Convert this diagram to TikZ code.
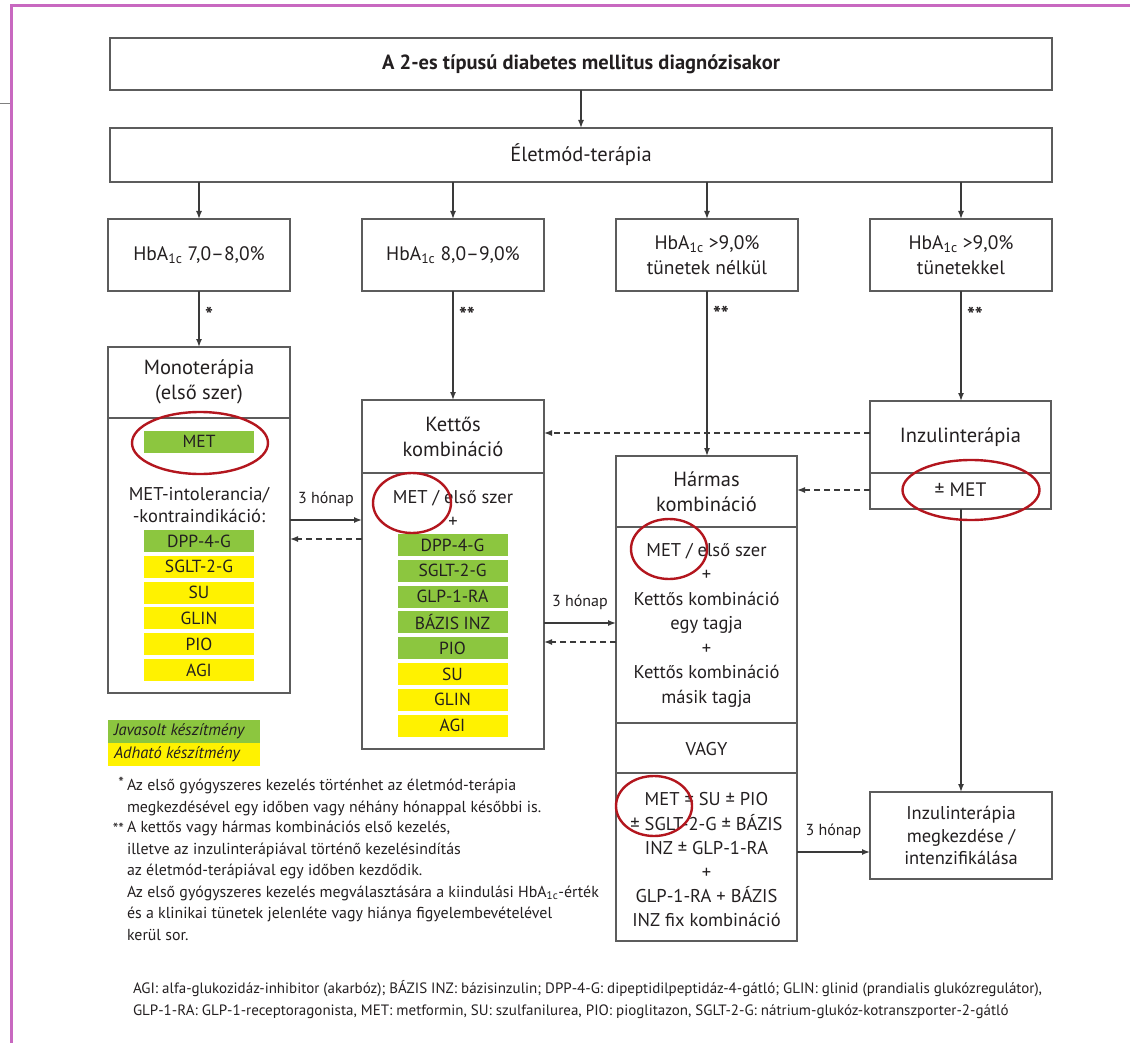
\documentclass[tikz,border=0pt]{standalone}
\usepackage{fontspec}
\setmainfont{PT Sans}
\usetikzlibrary{arrows.meta,shapes.geometric}
\definecolor{ink}{HTML}{231F20}
\definecolor{linec}{HTML}{3A3A3A}
\definecolor{boxc}{HTML}{5C5C5C}
\definecolor{jgreen}{HTML}{8CC63F}
\definecolor{jyellow}{HTML}{FFF200}
\definecolor{ringred}{HTML}{B3161E}
\definecolor{framec}{HTML}{C868C0}
\newcommand\hbaone{HbA\textsubscript{1c}}
\newcommand\lowstar[1]{\raisebox{-0.45ex}{#1}}
\begin{document}
\begin{tikzpicture}[x=1pt,y=-1pt,
  every node/.style={text=ink, inner sep=0pt, outer sep=0pt},
  box/.style={draw=boxc, line width=1.4pt, rectangle, fill=none},
  divider/.style={draw=boxc, line width=1.4pt},
  hdr/.style={font=\fontsize{20.5}{25}\selectfont, align=center},
  hba/.style={font=\fontsize{19.5}{25}\selectfont, align=center},
  txt/.style={font=\fontsize{18.5}{24.5}\selectfont, align=center},
  bar/.style={minimum width=110pt, minimum height=22pt, font=\fontsize{17.5}{18}\selectfont},
  gbar/.style={bar, fill=jgreen},
  ybar/.style={bar, fill=jyellow},
  arr/.style={draw=linec, line width=1.4pt, -{Latex[length=8pt,width=6pt]}},
  darr/.style={arr, dash pattern=on 6pt off 4pt},
  lbl/.style={font=\fontsize{16}{18}\selectfont},
  star/.style={font=\bfseries\fontsize{21}{22}\selectfont},
  ring/.style={draw=ringred, line width=2.4pt, ellipse, fill=none},
  fnote/.style={font=\fontsize{15.9}{21.5}\selectfont, align=left, anchor=base west},
]
\useasboundingbox (0,0) rectangle (1130,1043);
% page frame
\draw[framec, line width=3pt] (11.5,1043) -- (11.5,6) -- (1130,6);
\draw[gray, line width=1pt] (0,104) -- (10,104);

% title and lifestyle
\node[box, minimum width=942pt, minimum height=52pt, font=\bfseries\fontsize{20.5}{22}\selectfont] (title) at (581,64) {A 2-es típusú diabetes mellitus diagnózisakor};
\node[box, minimum width=942pt, minimum height=54pt, hdr] (elet) at (581,155) {Életmód-terápia};
\draw[arr] (title) -- (elet);

% HbA1c boxes
\node[box, minimum width=182pt, minimum height=72pt, hba] (h1) at (199,255) {\hbaone{} 7,0--8,0\%};
\node[box, minimum width=182pt, minimum height=72pt, hba] (h2) at (453,255) {\hbaone{} 8,0--9,0\%};
\node[box, minimum width=182pt, minimum height=72pt, hba] (h3) at (707,255) {\hbaone{} >9,0\%\\tünetek nélkül};
\node[box, minimum width=182pt, minimum height=72pt, hba] (h4) at (961,255) {\hbaone{} >9,0\%\\tünetekkel};
\foreach \h in {h1,h2,h3,h4} \draw[arr] (\h.north |- elet.south) -- (\h.north);

% Monoterapia
\node[box, minimum width=182pt, minimum height=346pt] (mono) at (199,520) {};
\draw[divider] (mono.west |- 0,418) -- (mono.east |- 0,418);
\node[hdr] (monoh) at (199,382) {Monoterápia\\(első szer)};
\node[gbar] (mmet) at (199,441.5) {MET};
\node[txt, font=\fontsize{18.5}{22.5}\selectfont] (mintol) at (199,505) {MET-intolerancia/\\-kontraindikáció:};
\node[gbar] (m1) at (199,541) {DPP-4-G};
\node[ybar] (m2) at (199,566.8) {SGLT-2-G};
\node[ybar] (m3) at (199,592.6) {SU};
\node[ybar] (m4) at (199,618.4) {GLIN};
\node[ybar] (m5) at (199,644.2) {PIO};
\node[ybar] (m6) at (199,670) {AGI};

% Kettos
\node[box, minimum width=182pt, minimum height=349pt] (kett) at (453,574.5) {};
\draw[divider] (kett.west |- 0,473) -- (kett.east |- 0,473);
\node[hdr] (ketth) at (453,436.5) {Kettős\\kombináció};
\node[txt] (kmet) at (453,509) {MET / első szer\\+};
\node[gbar] (k1) at (452.5,545) {DPP-4-G};
\node[gbar] (k2) at (452.5,570.8) {SGLT-2-G};
\node[gbar] (k3) at (452.5,596.6) {GLP-1-RA};
\node[gbar] (k4) at (452.5,622.4) {BÁZIS INZ};
\node[gbar] (k5) at (452.5,648.2) {PIO};
\node[ybar] (k6) at (452.5,674) {SU};
\node[ybar] (k7) at (452.5,699.8) {GLIN};
\node[ybar] (k8) at (452.5,725.6) {AGI};

% Harmas
\node[box, minimum width=181pt, minimum height=485pt] (harm) at (706.5,698.5) {};
\draw[divider] (harm.west |- 0,527) -- (harm.east |- 0,527);
\draw[divider] (harm.west |- 0,723) -- (harm.east |- 0,723);
\draw[divider] (harm.west |- 0,773) -- (harm.east |- 0,773);
\node[hdr] (harmh) at (706.5,491.5) {Hármas\\kombináció};
\node[txt] (harm1) at (706.5,625) {MET / első szer\\+\\Kettős kombináció\\egy tagja\\+\\Kettős kombináció\\másik tagja};
\node[txt] (vagy) at (706.5,749) {VAGY};
\node[txt, font=\fontsize{18.5}{24.2}\selectfont] (harm2) at (706.5,860) {MET ± SU ± PIO\\± SGLT-2-G ± BÁZIS\\INZ ± GLP-1-RA\\+\\GLP-1-RA + BÁZIS\\INZ fix kombináció};

% Inzulinterapia
\node[box, minimum width=181pt, minimum height=108pt] (inz) at (960.5,455) {};
\draw[divider] (inz.west |- 0,473) -- (inz.east |- 0,473);
\node[hdr] (inzh) at (960.5,437) {Inzulinterápia};
\node[hba] (inzm) at (960.5,490) {± MET};

\node[box, minimum width=182pt, minimum height=87pt, txt, font=\fontsize{18.5}{22.5}\selectfont] (inz2) at (961,835.5) {Inzulinterápia\\megkezdése /\\intenzifikálása};

% vertical arrows
\draw[arr] (h1) -- (mono) node[pos=0.42, right=6pt, star] (s1) {\lowstar{*}};
\draw[arr] (h2) -- (kett) node[pos=0.22, right=6pt, star] (s2) {\lowstar{**}};
\draw[arr] (h3) -- (harm.north -| h3) node[pos=0.14, right=6pt, star] (s3) {\lowstar{**}};
\draw[arr] (h4) -- (inz.north -| h4) node[pos=0.22, right=6pt, star] (s4) {\lowstar{**}};
\draw[arr] (inz.south -| inz2) -- (inz2);

% horizontal arrows
\draw[arr] (mono.east) -- (kett.west |- mono.east) node[midway, above=13pt, lbl] (t1) {3 hónap};
\draw[darr] (kett.west |- 0,539) -- (mono.east |- 0,539);
\draw[arr] (kett.east |- 0,623) -- (harm.west |- 0,623) node[midway, above=13pt, lbl] (t2) {3 hónap};
\draw[darr] (harm.west |- 0,642) -- (kett.east |- 0,642);
\draw[darr] (inz.west |- 0,433) -- (kett.east |- 0,433);
\draw[darr] (inz.west |- 0,490) -- (harm.east |- 0,490);
\draw[arr] (harm.east |- 0,852) -- (inz2.west |- 0,852) node[midway, above=13pt, lbl] (t3) {3 hónap};

% red rings
\node[ring, minimum width=136pt, minimum height=62pt] (r1) at (200,443) {};
\node[ring, minimum width=78pt, minimum height=60pt] (r2) at (412,503) {};
\node[ring, minimum width=76pt, minimum height=60pt] (r3) at (669,549) {};
\node[ring, minimum width=76pt, minimum height=60pt] (r4) at (654,806) {};
\node[ring, minimum width=137pt, minimum height=60pt] (r5) at (971,490) {};

% legend
\node[fill=jgreen, minimum width=152pt, minimum height=23pt, anchor=north west] (lg) at (108,720) {};
\node[fill=jyellow, minimum width=152pt, minimum height=23pt, anchor=north west] (ly) at (108,743) {};
\node[anchor=west, font=\itshape\fontsize{16.5}{18}\selectfont] (lgt) at (114,731.5) {Javasolt készítmény};
\node[anchor=west, font=\itshape\fontsize{16.5}{18}\selectfont] (lyt) at (114,754.5) {Adható készítmény};

% footnotes
\node[fnote, anchor=base east] (fs1) at (124,788) {*};
\node[fnote] (fn1) at (127,812) {Az első gyógyszeres kezelés történhet az életmód-terápia\\megkezdésével egy időben vagy néhány hónappal későbbi is.};
\node[fnote, anchor=base east] (fs2) at (124,834) {**};
\node[fnote] (fn2) at (127,940) {A kettős vagy hármas kombinációs első kezelés,\\illetve az inzulinterápiával történő kezelésindítás\\az életmód-terápiával egy időben kezdődik.\\Az első gyógyszeres kezelés megválasztására a kiindulási \hbaone-érték\\és a klinikai tünetek jelenléte vagy hiánya figyelembevételével\\kerül sor.};

% footer
\node[anchor=base west, align=left, font=\fontsize{15}{22}\selectfont] (foot) at (133,1015) {AGI: alfa-glukozidáz-inhibitor (akarbóz); BÁZIS INZ: bázisinzulin; DPP-4-G: dipeptidilpeptidáz-4-gátló; GLIN: glinid (prandialis glukózregulátor),\\GLP-1-RA: GLP-1-receptoragonista, MET: metformin, SU: szulfanilurea, PIO: pioglitazon, SGLT-2-G: nátrium-glukóz-kotranszporter-2-gátló};
\end{tikzpicture}
\end{document}
